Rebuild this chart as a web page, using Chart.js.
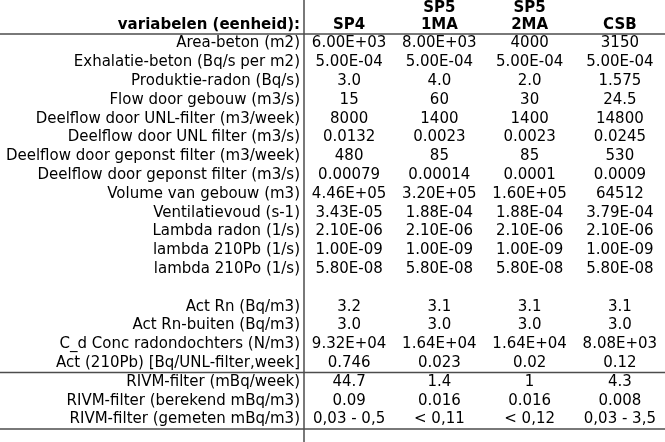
<!DOCTYPE html>
<html>
<head>
<meta charset="utf-8">
<script src="https://cdn.jsdelivr.net/npm/chart.js@4/dist/chart.umd.min.js"></script>
<style>
  body { margin: 0; background: #fff; }
  #wrap { width: 665px; height: 442px; }
</style>
</head>
<body>
<div id="wrap"><canvas id="tableChart"></canvas></div>
<script>
// row labels (first column), '' is the empty spacer row
const rowLabels = [
    'Area-beton (m2)',
    'Exhalatie-beton (Bq/s per m2)',
    'Produktie-radon (Bq/s)',
    'Flow door gebouw (m3/s)',
    'Deelflow door UNL-filter (m3/week)',
    'Deelflow door UNL filter (m3/s)',
    'Deelflow door geponst filter (m3/week)',
    'Deelflow door geponst filter (m3/s)',
    'Volume van gebouw (m3)',
    'Ventilatievoud (s-1)',
    'Lambda radon (1/s)',
    'lambda 210Pb (1/s)',
    'lambda 210Po (1/s)',
    '',
    'Act Rn (Bq/m3)',
    'Act Rn-buiten (Bq/m3)',
    'C_d Conc radondochters (N/m3)',
    'Act (210Pb) [Bq/UNL-filter,week]',
    'RIVM-filter (mBq/week)',
    'RIVM-filter (berekend mBq/m3)',
    'RIVM-filter (gemeten mBq/m3)'
];

// column headers (two lines each)
const columnNames = ['SP4', 'SP5 1MA', 'SP5 2MA', 'CSB'];
const columnLabels = [['', 'SP4'], ['SP5', '1MA'], ['SP5', '2MA'], ['', 'CSB']];
const headerTitle = 'variabelen (eenheid):';

// cell values per column (kept as text, as in the sheet)
const sp4 = ['6.00E+03', '5.00E-04', '3.0', '15', '8000', '0.0132', '480', '0.00079', '4.46E+05', '3.43E-05',
    '2.10E-06', '1.00E-09', '5.80E-08', '', '3.2', '3.0', '9.32E+04', '0.746', '44.7', '0.09', '0,03 - 0,5'];
const sp5_1ma = ['8.00E+03', '5.00E-04', '4.0', '60', '1400', '0.0023', '85', '0.00014', '3.20E+05', '1.88E-04',
    '2.10E-06', '1.00E-09', '5.80E-08', '', '3.1', '3.0', '1.64E+04', '0.023', '1.4', '0.016', '< 0,11'];
const sp5_2ma = ['4000', '5.00E-04', '2.0', '30', '1400', '0.0023', '85', '0.0001', '1.60E+05', '1.88E-04',
    '2.10E-06', '1.00E-09', '5.80E-08', '', '3.1', '3.0', '1.64E+04', '0.02', '1', '0.016', '< 0,12'];
const csb = ['3150', '5.00E-04', '1.575', '24.5', '14800', '0.0245', '530', '0.0009', '64512', '3.79E-04',
    '2.10E-06', '1.00E-09', '5.80E-08', '', '3.1', '3.0', '8.08E+03', '0.12', '4.3', '0.008', '0,03 - 3,5'];

const columns = [sp4, sp5_1ma, sp5_2ma, csb];
const sectionAfterRow = 17; // rule under 'Act (210Pb) ...'

const FONT = '"DejaVu Sans", Verdana, sans-serif';
const LINE = '#4d4d4d';

// draws the cell texts at the point positions and the table rules
const tablePlugin = {
    id: 'tablePlugin',
    afterDatasetsDraw(chart) {
        const ctx = chart.ctx;
        const area = chart.chartArea;
        const x = chart.scales.x;
        const y = chart.scales.y;
        ctx.save();
        ctx.fillStyle = '#000';
        ctx.font = '15px ' + FONT;
        ctx.textAlign = 'center';
        ctx.textBaseline = 'middle';
        chart.data.datasets.forEach((ds, d) => {
            const meta = chart.getDatasetMeta(d);
            meta.data.forEach((pt, i) => {
                ctx.fillText(ds.cellText[i], pt.x, pt.y);
            });
        });

        // header title in the first column
        ctx.font = 'bold 15px ' + FONT;
        ctx.textAlign = 'right';
        ctx.fillText(headerTitle, area.left - 4, x.bottom - 8.5);

        // rules
        ctx.strokeStyle = LINE;
        ctx.lineWidth = 1.5;
        const sectionY = (y.getPixelForValue(sectionAfterRow) + y.getPixelForValue(sectionAfterRow + 1)) / 2;
        ctx.beginPath();
        ctx.moveTo(area.left, 0);
        ctx.lineTo(area.left, chart.height);
        [area.top, sectionY, area.bottom].forEach(ly => {
            ctx.moveTo(0, ly);
            ctx.lineTo(chart.width, ly);
        });
        ctx.stroke();
        ctx.restore();
    }
};

const datasets = columns.map((col, c) => ({
    label: columnNames[c],
    data: col.map((v, i) => ({ x: columnNames[c], y: rowLabels[i] })),
    cellText: col,
    pointRadius: 0,
    pointHoverRadius: 0
}));

new Chart(document.getElementById('tableChart'), {
    type: 'scatter',
    data: { datasets: datasets },
    options: {
        responsive: true,
        maintainAspectRatio: false,
        animation: false,
        events: [],
        layout: { padding: { left: 0, right: 0, top: 0, bottom: 3.5 } },
        plugins: {
            legend: { display: false },
            tooltip: { enabled: false }
        },
        scales: {
            x: {
                type: 'category',
                position: 'top',
                labels: columnNames,
                offset: true,
                grid: { display: false, drawTicks: false },
                border: { display: false },
                ticks: {
                    color: '#000',
                    font: { family: FONT, size: 15, weight: 'bold', lineHeight: '17px' },
                    padding: 0,
                    maxRotation: 0,
                    autoSkip: false,
                    callback: (value, index) => columnLabels[index]
                }
            },
            y: {
                type: 'category',
                labels: rowLabels,
                offset: true,
                grid: { display: false, drawTicks: false },
                border: { display: false },
                afterFit: (scale) => { scale.width = 304; },
                ticks: {
                    color: '#000',
                    font: { family: FONT, size: 15 },
                    padding: 4,
                    autoSkip: false
                }
            }
        }
    },
    plugins: [tablePlugin]
});
</script>
</body>
</html>
